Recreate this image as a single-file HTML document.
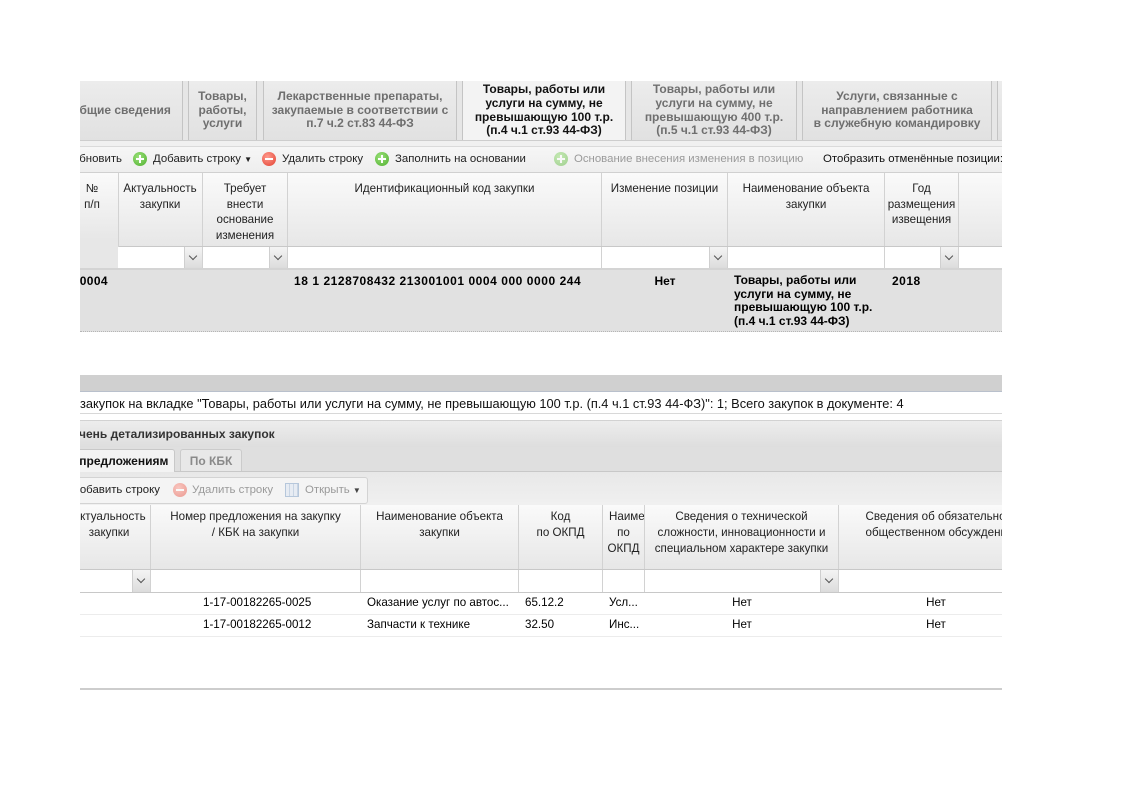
<!DOCTYPE html>
<html><head><meta charset="utf-8">
<style>
*{margin:0;padding:0;box-sizing:border-box}
html,body{width:1122px;height:793px;background:#fff;overflow:hidden}
body{font-family:"Liberation Sans","DejaVu Sans",sans-serif;font-size:11.6px;color:#000;position:relative}
#c{position:absolute;left:80px;top:0;width:922px;height:793px;overflow:hidden}
.a{position:absolute}
.tab{position:absolute;top:81px;height:59px;background:linear-gradient(#ececec,#e1e1e1);border-left:1px solid #c4c4c4;border-right:1px solid #c4c4c4;display:flex;align-items:center;justify-content:center;text-align:center;font-weight:bold;font-size:12px;color:#6f6f6f;line-height:13.7px;white-space:nowrap}
.tab.act{background:#f3f3f3;color:#111}
.t{position:absolute;white-space:nowrap;line-height:14px}
.b{font-weight:bold;font-size:12px}
.tb{font-size:11.4px}
.hc{position:absolute;border-right:1px solid #d2d2d2;text-align:center;color:#222;white-space:nowrap;overflow:hidden}
.fc{position:absolute;background:#fff;border-right:1px solid #d2d2d2;overflow:hidden}
.trg{position:absolute;top:0;right:0;width:18px;height:100%;background:linear-gradient(#f4f4f4,#dcdcdc);border-left:1px solid #cfcfcf}
.trg:after{content:"";position:absolute;left:5px;top:6px;width:5px;height:5px;border-right:1.5px solid #555;border-bottom:1.5px solid #555;transform:rotate(45deg)}
.ic{position:absolute;width:14px;height:14px;border-radius:50%}
.g{background:radial-gradient(circle at 40% 35%,#9be27a,#4fae2e)}
.r{background:radial-gradient(circle at 40% 35%,#ff9b8f,#e2402f)}
.ic.g:before,.ic.g:after,.ic.r:before{content:"";position:absolute;background:#fff}
.ic.g:before{left:3px;top:6px;width:8px;height:2px}
.ic.g:after{left:6px;top:3px;width:2px;height:8px}
.ic.r:before{left:3px;top:6px;width:8px;height:2px}
.fade{opacity:.5}
</style></head><body>
<div id="c">

<!-- top tab bar -->
<div class="a" style="left:0;top:81px;width:922px;height:59px;background:#e6e6e6"></div>
<div class="tab" style="left:-22px;width:125px">Общие сведения</div>
<div class="tab" style="left:108px;width:69px">Товары,<br>работы,<br>услуги</div>
<div class="tab" style="left:183px;width:194px">Лекарственные препараты,<br>закупаемые в соответствии с<br>п.7 ч.2 ст.83 44-ФЗ</div>
<div class="tab act" style="left:382px;width:164px">Товары, работы или<br>услуги на сумму, не<br>превышающую 100 т.р.<br>(п.4 ч.1 ст.93 44-ФЗ)</div>
<div class="tab" style="left:551px;width:166px">Товары, работы или<br>услуги на сумму, не<br>превышающую 400 т.р.<br>(п.5 ч.1 ст.93 44-ФЗ)</div>
<div class="tab" style="left:722px;width:190px">Услуги, связанные с<br>направлением работника<br>в служебную командировку</div>
<div class="tab" style="left:917px;width:100px"></div>
<div class="a" style="left:0;top:140px;width:922px;height:6px;background:#f0f0f0;border-top:1px solid #cdcdcd"></div>

<!-- toolbar -->
<div class="a" style="left:0;top:146px;width:922px;height:27px;background:linear-gradient(#f6f6f6,#eeeeee);border-top:1px solid #dadada;border-bottom:1px solid #d0d0d0"></div>
<div class="t tb" style="left:-20px;width:62px;text-align:right;top:152px;color:#222">Обновить</div>
<div class="ic g" style="left:53px;top:152px"></div>
<div class="t tb" style="left:73px;top:152px;color:#222">Добавить строку <span style="font-size:8px">▼</span></div>
<div class="ic r" style="left:182px;top:152px"></div>
<div class="t tb" style="left:202px;top:152px;color:#222">Удалить строку</div>
<div class="ic g" style="left:295px;top:152px"></div>
<div class="t tb" style="left:315px;top:152px;color:#222">Заполнить на основании</div>
<div class="ic g fade" style="left:474px;top:152px"></div>
<div class="t tb" style="left:494px;top:152px;color:#9a9a9a">Основание внесения изменения в позицию</div>
<div class="t tb" style="left:743px;top:152px;color:#111">Отобразить отменённые позиции:</div>

<!-- grid header -->
<div class="a" style="left:0;top:173px;width:922px;height:74px;background:linear-gradient(#fafafa,#e7e7e7);border-bottom:1px solid #c8c8c8"></div>
<div class="hc" style="left:-14px;width:53px;top:173px;height:95px;padding-top:8px;line-height:15.6px;background:linear-gradient(#fafafa,#e7e7e7 70%,#e7e7e7)">№<br>п/п</div>
<div class="hc" style="left:38px;width:85px;top:173px;height:73px;padding-top:8px;line-height:15.6px">Актуальность<br>закупки</div>
<div class="hc" style="left:123px;width:85px;top:173px;height:73px;padding-top:8px;line-height:15.6px">Требует<br>внести<br>основание<br>изменения</div>
<div class="hc" style="left:208px;width:314px;top:173px;height:73px;padding-top:8px;line-height:15.6px">Идентификационный код закупки</div>
<div class="hc" style="left:522px;width:126px;top:173px;height:73px;padding-top:8px;line-height:15.6px">Изменение позиции</div>
<div class="hc" style="left:648px;width:157px;top:173px;height:73px;padding-top:8px;line-height:15.6px">Наименование объекта<br>закупки</div>
<div class="hc" style="left:805px;width:74px;top:173px;height:73px;padding-top:8px;line-height:15.6px">Год<br>размещения<br>извещения</div>
<div class="hc" style="left:879px;width:60px;top:173px;height:73px"></div>

<!-- filter row -->
<div class="fc" style="left:38px;width:85px;top:247px;height:21px"><div class="trg"></div></div>
<div class="fc" style="left:123px;width:85px;top:247px;height:21px"><div class="trg"></div></div>
<div class="fc" style="left:208px;width:314px;top:247px;height:21px"></div>
<div class="fc" style="left:522px;width:126px;top:247px;height:21px"><div class="trg"></div></div>
<div class="fc" style="left:648px;width:157px;top:247px;height:21px"></div>
<div class="fc" style="left:805px;width:74px;top:247px;height:21px"><div class="trg"></div></div>
<div class="fc" style="left:879px;width:60px;top:247px;height:21px"></div>
<div class="a" style="left:0;top:268px;width:922px;height:2px;background:#d4d4d4"></div>

<!-- data row -->
<div class="a" style="left:0;top:270px;width:922px;height:62px;background:#e1e1e1;border-bottom:1px dotted #b5b5b5"></div>
<div class="t b" style="left:-20px;width:48px;text-align:right;top:274px;letter-spacing:0.4px">00004</div>
<div class="t b" style="left:214px;top:274px;letter-spacing:0.55px">18 1 2128708432 213001001 0004 000 0000 244</div>
<div class="t b" style="left:565px;width:40px;text-align:center;top:274px">Нет</div>
<div class="t b" style="left:654px;top:274px;line-height:13.7px">Товары, работы или<br>услуги на сумму, не<br>превышающую 100 т.р.<br>(п.4 ч.1 ст.93 44-ФЗ)</div>
<div class="t b" style="left:812px;top:274px;letter-spacing:0.5px">2018</div>

<!-- gray bar & summary -->
<div class="a" style="left:0;top:375px;width:922px;height:17px;background:#d0d0d0;border-bottom:1px solid #b9c0cc"></div>
<div class="a" style="left:0;top:392px;width:922px;height:22px;background:#fff;border-bottom:1px solid #d8d8d8"></div>
<div class="t" style="left:0;top:397px;color:#111;font-size:12.8px">закупок на вкладке "Товары, работы или услуги на сумму, не превышающую 100 т.р. (п.4 ч.1 ст.93 44-ФЗ)": 1; Всего закупок в документе: 4</div>

<!-- panel header -->
<div class="a" style="left:0;top:420px;width:922px;height:27px;background:linear-gradient(#ededed,#dedede);border-top:1px solid #d2d2d2"></div>
<div class="t b" style="left:-30px;top:427px;color:#333">Перечень детализированных закупок</div>

<!-- tab strip -->
<div class="a" style="left:0;top:447px;width:922px;height:25px;background:#dfdfdf;border-bottom:1px solid #c8c8c8"></div>
<div class="a" style="left:-20px;top:449px;width:115px;height:23px;background:#f3f3f3;border:1px solid #c8c8c8;border-bottom:none;border-radius:3px 3px 0 0"></div>
<div class="t b" style="left:-20px;width:106px;text-align:right;top:454px;color:#111">По предложениям</div>
<div class="a" style="left:100px;top:449px;width:62px;height:22px;background:#e8e8e8;border:1px solid #cbcbcb;border-bottom:none;border-radius:3px 3px 0 0"></div>
<div class="t b" style="left:100px;width:62px;text-align:center;top:454px;color:#8a8a8a">По КБК</div>
<div class="a" style="left:0;top:472px;width:922px;height:33px;background:linear-gradient(#e8e8e8,#f0f0f0)"></div>

<!-- lower toolbar -->
<div class="a" style="left:-20px;top:477px;width:308px;height:27px;background:#f4f4f4;border:1px solid #d3d3d3;border-radius:3px"></div>
<div class="t tb" style="left:-8px;top:483px;color:#222">Добавить строку</div>
<div class="ic r fade" style="left:93px;top:483px"></div>
<div class="t tb" style="left:112px;top:483px;color:#9a9a9a">Удалить строку</div>
<div class="a fade" style="left:205px;top:483px;width:14px;height:14px;border:1px solid #7a9cc4;background:repeating-linear-gradient(90deg,#dbe6f3 0 3px,#9fb7d6 3px 4px);"></div>
<div class="t tb" style="left:225px;top:483px;color:#9a9a9a">Открыть <span style="font-size:8px;color:#444">▼</span></div>

<!-- lower header -->
<div class="a" style="left:0;top:505px;width:922px;height:65px;background:linear-gradient(#fafafa,#e7e7e7);border-bottom:1px solid #c8c8c8"></div>
<div class="hc" style="left:-12px;width:83px;top:505px;height:64px;padding-top:4px;line-height:16px">Актуальность<br>закупки</div>
<div class="hc" style="left:71px;width:210px;top:505px;height:64px;padding-top:4px;line-height:16px">Номер предложения на закупку<br>/ КБК на закупки</div>
<div class="hc" style="left:281px;width:158px;top:505px;height:64px;padding-top:4px;line-height:16px">Наименование объекта<br>закупки</div>
<div class="hc" style="left:439px;width:84px;top:505px;height:64px;padding-top:4px;line-height:16px">Код<br>по ОКПД</div>
<div class="hc" style="left:523px;width:42px;top:505px;height:64px;padding-top:4px;line-height:16px"><div style="text-align:left;padding-left:6px">Наименование</div>по<br>ОКПД</div>
<div class="hc" style="left:565px;width:194px;top:505px;height:64px;padding-top:4px;line-height:16px">Сведения о технической<br>сложности, инновационности и<br>специальном характере закупки</div>
<div class="hc" style="left:759px;width:202px;top:505px;height:64px;padding-top:4px;line-height:16px">Сведения об обязательном<br>общественном обсуждении</div>

<!-- lower filter row -->
<div class="fc" style="left:0;width:71px;top:570px;height:22px"><div class="trg"></div></div>
<div class="fc" style="left:71px;width:210px;top:570px;height:22px"></div>
<div class="fc" style="left:281px;width:158px;top:570px;height:22px"></div>
<div class="fc" style="left:439px;width:84px;top:570px;height:22px"></div>
<div class="fc" style="left:523px;width:42px;top:570px;height:22px"></div>
<div class="fc" style="left:565px;width:194px;top:570px;height:22px"><div class="trg"></div></div>
<div class="fc" style="left:759px;width:202px;top:570px;height:22px"></div>
<div class="a" style="left:0;top:592px;width:922px;height:1px;background:#c8c8c8"></div>

<!-- lower rows -->
<div class="a" style="left:0;top:614px;width:922px;height:1px;background:#ececec"></div>
<div class="a" style="left:0;top:636px;width:922px;height:1px;background:#ececec"></div>
<div class="t" style="left:123px;top:596px">1-17-00182265-0025</div>
<div class="t" style="left:287px;top:596px">Оказание услуг по автос...</div>
<div class="t" style="left:445px;top:596px">65.12.2</div>
<div class="t" style="left:529px;top:596px">Усл...</div>
<div class="t" style="left:642px;width:40px;text-align:center;top:596px">Нет</div>
<div class="t" style="left:836px;width:40px;text-align:center;top:596px">Нет</div>

<div class="t" style="left:123px;top:618px">1-17-00182265-0012</div>
<div class="t" style="left:287px;top:618px">Запчасти к технике</div>
<div class="t" style="left:445px;top:618px">32.50</div>
<div class="t" style="left:529px;top:618px">Инс...</div>
<div class="t" style="left:642px;width:40px;text-align:center;top:618px">Нет</div>
<div class="t" style="left:836px;width:40px;text-align:center;top:618px">Нет</div>

<div class="a" style="left:0;top:688px;width:922px;height:2px;background:#cdcdcd"></div>
</div>
</body></html>
